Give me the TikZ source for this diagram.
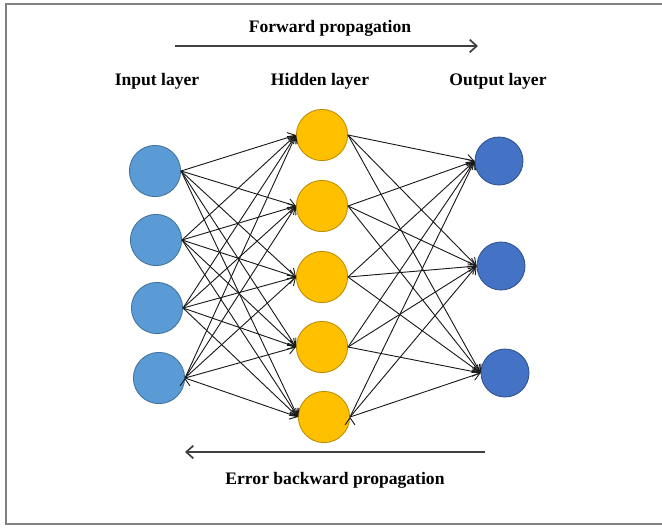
\documentclass[tikz,border=0pt]{standalone}
\usepackage{fontspec}
\setmainfont{Liberation Serif}
\usetikzlibrary{arrows.meta}

\definecolor{inblue}{HTML}{5B9BD5}
\definecolor{inedge}{HTML}{41719C}
\definecolor{hidgold}{HTML}{FFC000}
\definecolor{hidedge}{HTML}{BC8C00}
\definecolor{outblue}{HTML}{4472C4}
\definecolor{outedge}{HTML}{2F528F}

\begin{document}
\begin{tikzpicture}[x=0.025cm,y=-0.025cm,
		font=\fontsize{12.5}{15}\selectfont\bfseries,
		neuron/.style={circle,minimum size=1.28cm,inner sep=0pt,line width=0.6pt},
		link/.style={-{Straight Barb[length=5pt,width=7pt]},line width=0.65pt,black!90},
		flow/.style={-{Straight Barb[length=5pt,width=9pt]},line width=1.2pt,black!75}]

		% frame
		\useasboundingbox (0,0) rectangle (662,527);
		\draw[gray,line width=0.8pt] (662,4) -- (6,4) -- (6,524) -- (662,524);

		\node (fwd) at (330,28) {Forward propagation};
		\coordinate (fwdA) at (175,46);
		\coordinate (fwdB) at (478,46);
		\draw[flow] (fwdA) -- (fwdB);

		\node (linput) at (157,81) {Input layer};
		\node (lhidden) at (320,81) {Hidden layer};
		\node (loutput) at (498,81) {Output layer};

		\node[neuron,fill=inblue,draw=inedge] (i1) at (155,171) {};
		\node[neuron,fill=inblue,draw=inedge] (i2) at (156,240) {};
		\node[neuron,fill=inblue,draw=inedge] (i3) at (157,308) {};
		\node[neuron,fill=inblue,draw=inedge] (i4) at (159,378) {};

		\node[neuron,fill=hidgold,draw=hidedge] (h1) at (322,135) {};
		\node[neuron,fill=hidgold,draw=hidedge] (h2) at (322,206) {};
		\node[neuron,fill=hidgold,draw=hidedge] (h3) at (322,277) {};
		\node[neuron,fill=hidgold,draw=hidedge] (h4) at (322,347) {};
		\node[neuron,fill=hidgold,draw=hidedge] (h5) at (324,417) {};

		\node[neuron,fill=outblue,draw=outedge,minimum size=1.2cm] (o1) at (499,161) {};
		\node[neuron,fill=outblue,draw=outedge,minimum size=1.2cm] (o2) at (501,266) {};
		\node[neuron,fill=outblue,draw=outedge,minimum size=1.2cm] (o3) at (505,373) {};

		\draw[link] (i1.east) edge (h1.west) (i1.east) edge (h2.west)
		(i1.east) edge (h3.west) (i1.east) edge (h4.west) (i1.east) edge (h5.west)
		(i2.east) edge (h1.west) (i2.east) edge (h2.west)
		(i2.east) edge (h3.west) (i2.east) edge (h4.west) (i2.east) edge (h5.west)
		(i3.east) edge (h1.west) (i3.east) edge (h2.west)
		(i3.east) edge (h3.west) (i3.east) edge (h4.west) (i3.east) edge (h5.west)
		(i4.east) edge (h1.west) (i4.east) edge (h2.west)
		(i4.east) edge (h3.west) (i4.east) edge (h4.west) (i4.east) edge (h5.west);

		\draw[link] (h1.east) edge (o1.west) (h1.east) edge (o2.west) (h1.east) edge (o3.west)
		(h2.east) edge (o1.west) (h2.east) edge (o2.west) (h2.east) edge (o3.west)
		(h3.east) edge (o1.west) (h3.east) edge (o2.west) (h3.east) edge (o3.west)
		(h4.east) edge (o1.west) (h4.east) edge (o2.west) (h4.east) edge (o3.west)
		(h5.east) edge (o1.west) (h5.east) edge (o2.west) (h5.east) edge (o3.west);

		\coordinate (backA) at (485,452);
		\coordinate (backB) at (185,452);
		\draw[flow] (backA) -- (backB);
		\node (back) at (335,480) {Error backward propagation};

	\end{tikzpicture}
\end{document}
